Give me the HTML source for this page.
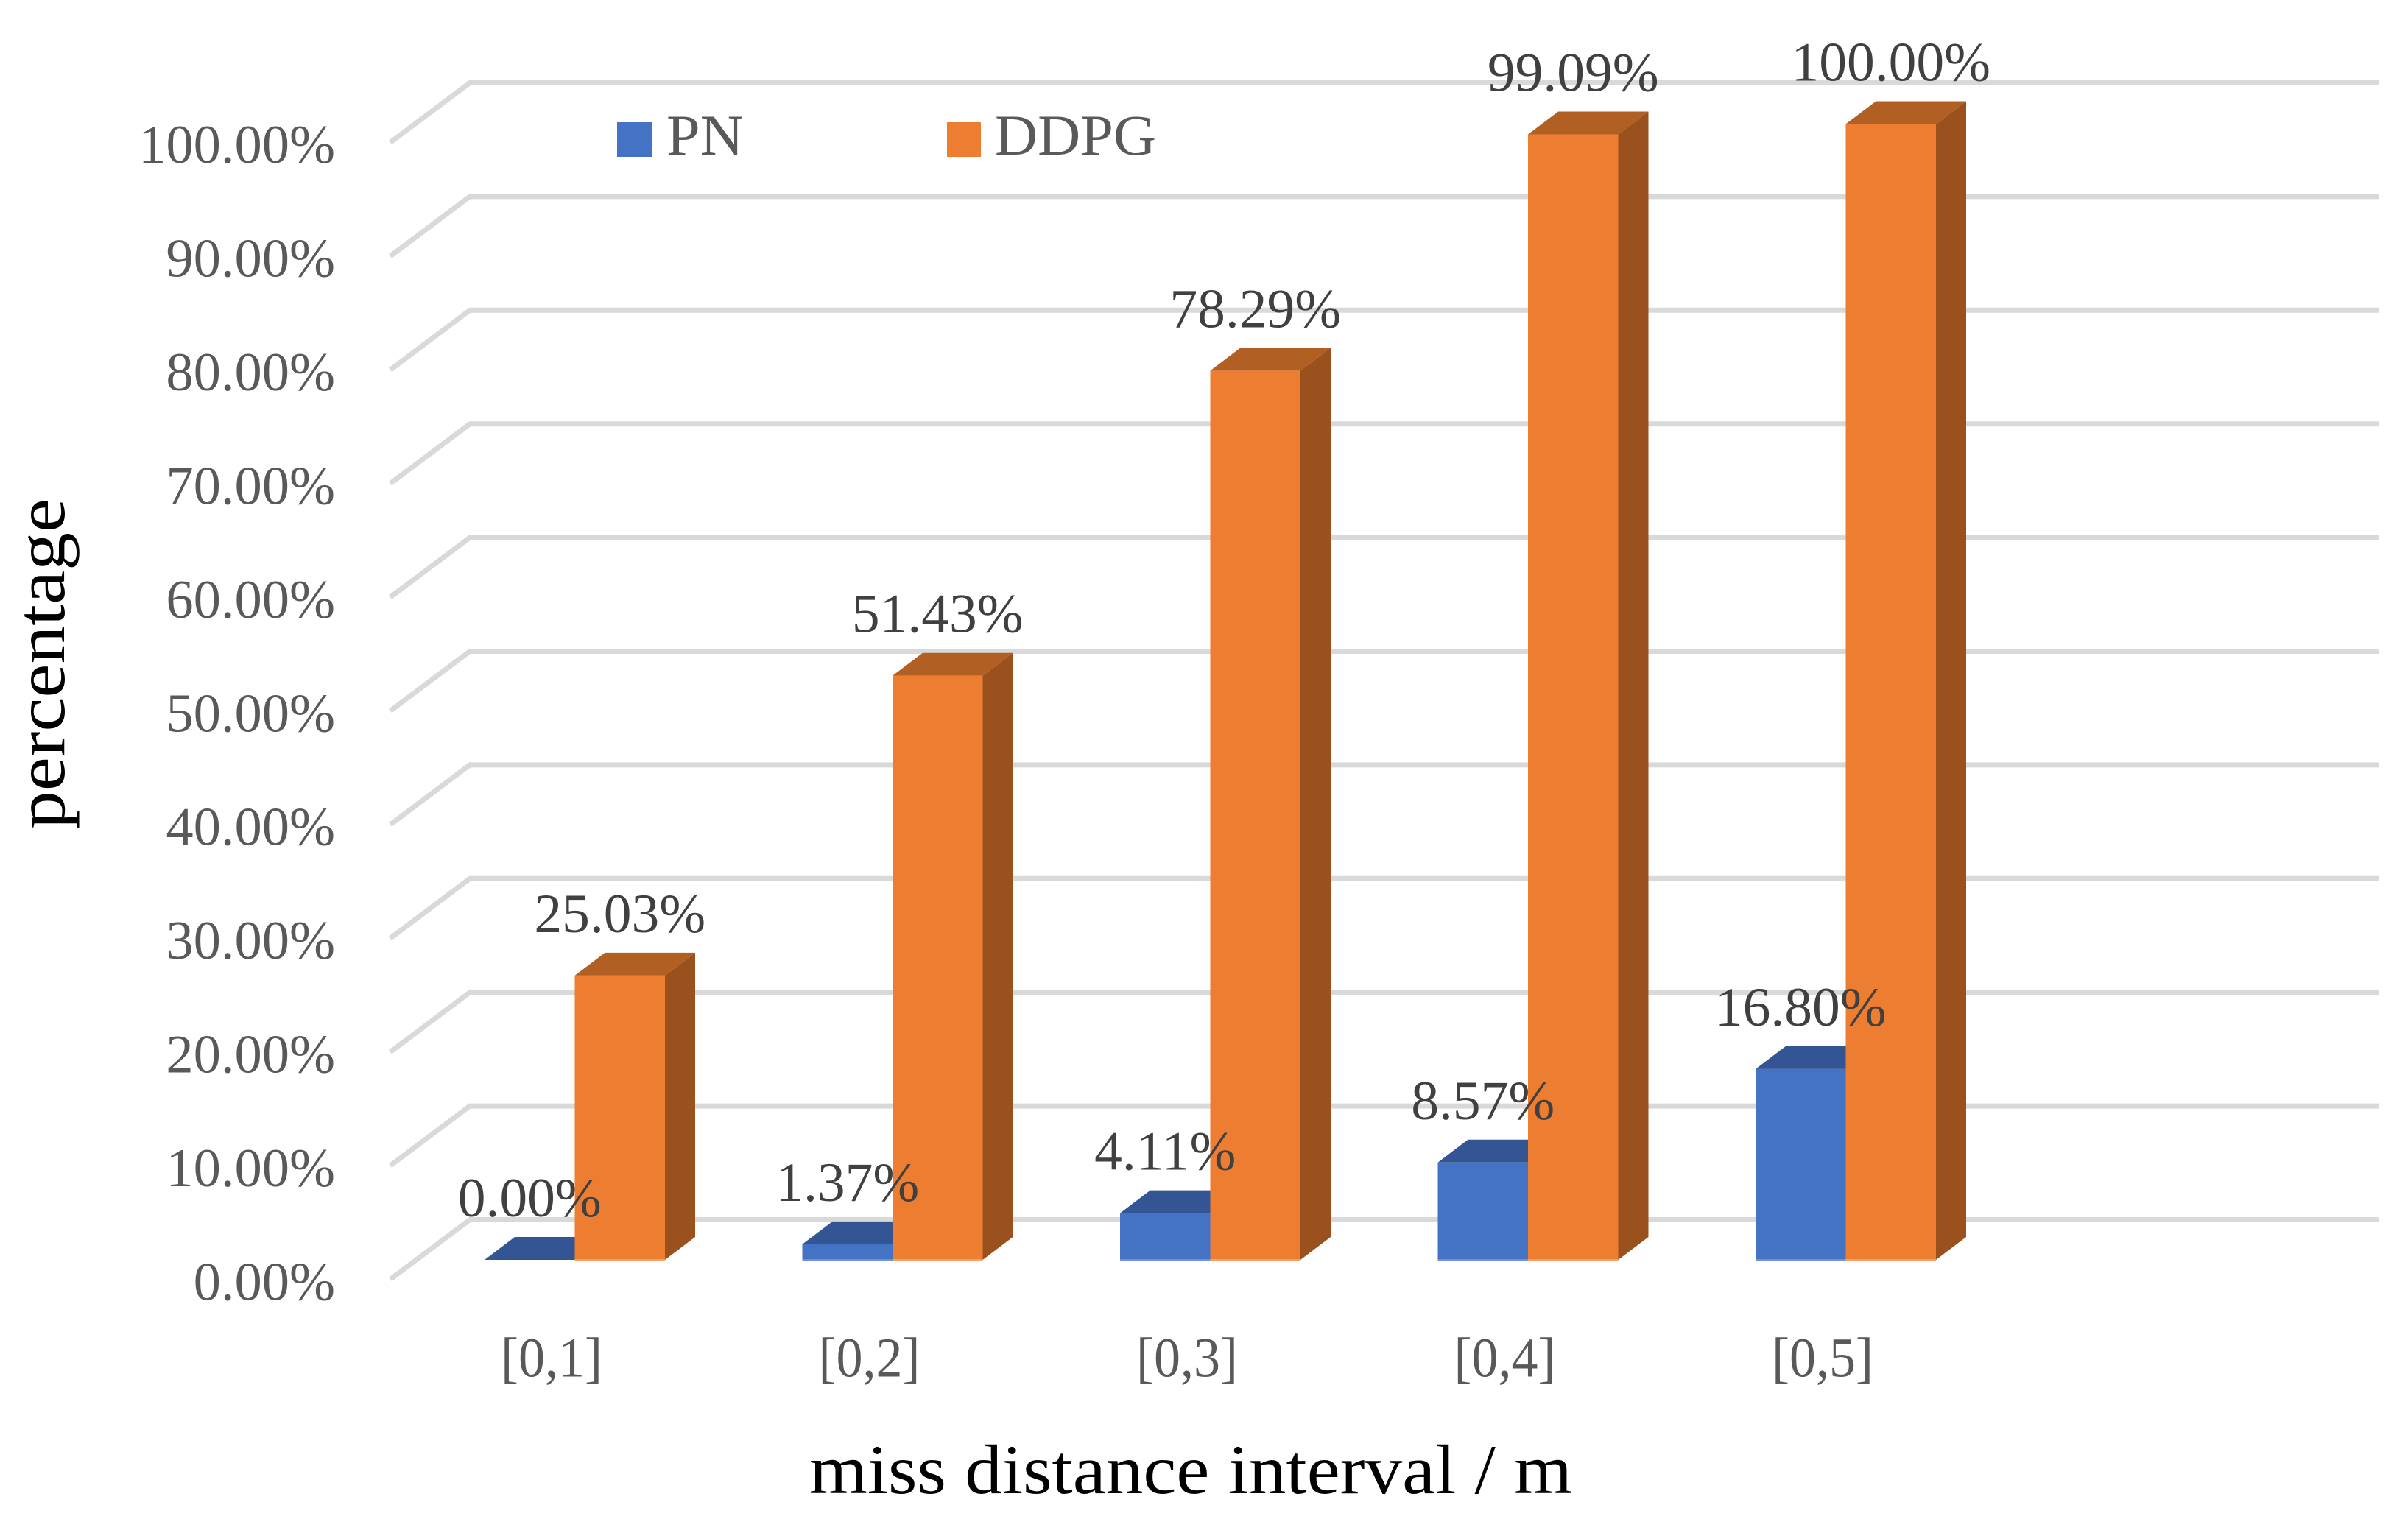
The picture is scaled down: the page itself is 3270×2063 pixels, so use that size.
<!DOCTYPE html>
<html lang="en">
<head>
<meta charset="utf-8">
<title>Miss distance interval chart</title>
<style>
html,body{margin:0;padding:0;background:#fff;}
svg{display:block;width:3270px;height:2063px;font-family:"Liberation Serif",serif;}
</style>
</head>
<body>
<svg id="chart" xmlns="http://www.w3.org/2000/svg" width="3270" height="2063" viewBox="0 0 3270 2063">
  <rect x="0" y="0" width="3270" height="2063" fill="#ffffff"/>
  <g id="grid"></g>
  <g id="ticks"></g>
  <g id="bars"></g>
  <g id="cats"></g>
  <g id="values"></g>
  <g>
    <rect x="838" y="166" width="47" height="47" fill="#4472C4"/>
    <text x="905" y="210" font-size="78" fill="#595959" textLength="105" lengthAdjust="spacingAndGlyphs">PN</text>
    <rect x="1286" y="166" width="46" height="47" fill="#ED7D31"/>
    <text x="1351" y="210" font-size="78" fill="#595959" textLength="219" lengthAdjust="spacingAndGlyphs">DDPG</text>
  </g>
  <text x="1099" y="2028" font-size="95" fill="#000000" textLength="1036" lengthAdjust="spacingAndGlyphs">miss distance interval / m</text>
  <text transform="translate(87 1126) rotate(-90)" x="0" y="0" font-size="95" fill="#000000" textLength="449" lengthAdjust="spacingAndGlyphs">percentage</text>
</svg>
<script>
const categories = ['[0,1]', '[0,2]', '[0,3]', '[0,4]', '[0,5]'];
const pnValues = [0.00, 1.37, 4.11, 8.57, 16.80];
const ddpgValues = [25.03, 51.43, 78.29, 99.09, 100.00];
const pnLabels = ['0.00%', '1.37%', '4.11%', '8.57%', '16.80%'];
const ddpgLabels = ['25.03%', '51.43%', '78.29%', '99.09%', '100.00%'];
const tickValues = [0, 10, 20, 30, 40, 50, 60, 70, 80, 90, 100];
const tickLabels = ['0.00%', '10.00%', '20.00%', '30.00%', '40.00%', '50.00%', '60.00%', '70.00%', '80.00%', '90.00%', '100.00%'];

const NS = 'http://www.w3.org/2000/svg';
const barWidth = 122.5;
const depthX = 41;
const depthY = 31;

// Axis functions
function yFront(v) { return 1711 - v * 15.425; }
function yBack(v) { return 1656.5 - v * 15.44; }
function yTickBaseline(v) { return 1765.5 - v * 15.445; }
function xOrange(i) { return 780.5 + i * 431.5; }
function xBlue(i) { return xOrange(i) - barWidth; }
function xCategory(i) { return 749 + i * 431.5; }

function make(tag, parent, props) {
  const el = document.createElementNS(NS, tag);
  Object.keys(props).forEach(function (k) { el.setAttribute(k, props[k]); });
  parent.appendChild(el);
  return el;
}
function pts(list) { return list.map(function (p) { return p[0] + ',' + p[1]; }).join(' '); }

const gridG = document.getElementById('grid');
const ticksG = document.getElementById('ticks');
const barsG = document.getElementById('bars');
const catsG = document.getElementById('cats');
const valuesG = document.getElementById('values');

tickValues.forEach(function (t, i) {
  const back = yBack(t);
  const line = make('polyline', gridG, {
    points: pts([[530, back + 81], [638, back], [3231, back]]),
    fill: 'none', stroke: '#d9d9d9', 'stroke-width': 7, 'stroke-linejoin': 'miter'
  });
  
  

  const label = make('text', ticksG, {
    x: 455, y: yTickBaseline(t), 'font-size': 74.5, fill: '#595959', 'text-anchor': 'end'
  });
  label.textContent = tickLabels[i];
  
  
});

function drawBar(x, v, front, top, side, base, name) {
  const yt = yFront(v);
  const yb = yFront(0);
  const g = make('g', barsG, {});
  
  
  make('polygon', g, {
    points: pts([[x + barWidth, yb], [x + barWidth + depthX, yb - depthY], [x + barWidth + depthX, yt - depthY], [x + barWidth, yt]]),
    fill: side
  });
  make('polygon', g, {
    points: pts([[x, yt], [x + depthX, yt - depthY], [x + barWidth + depthX, yt - depthY], [x + barWidth, yt]]),
    fill: top
  });
  if (yb - yt > 0) {
    make('rect', g, { x: x, y: yt, width: barWidth, height: yb - yt, fill: front });
    make('rect', g, { x: x, y: yb - 1, width: barWidth, height: 2.5, fill: base });
  }
}

categories.forEach(function (c, i) {
  drawBar(xBlue(i), pnValues[i], '#4472C4', '#335593', '#2F5597', '#6F93D6', 'bar-pn-' + (i + 1));
  drawBar(xOrange(i), ddpgValues[i], '#ED7D31', '#B25F24', '#9B511E', '#F4A066', 'bar-ddpg-' + (i + 1));

  const cat = make('text', catsG, {
    x: xCategory(i), y: 1869.5, 'font-size': 76, fill: '#595959', 'text-anchor': 'middle',
    textLength: 138, lengthAdjust: 'spacingAndGlyphs'
  });
  cat.textContent = c;
  
  
});

categories.forEach(function (c, i) {
  const a = make('text', valuesG, {
    x: xBlue(i) + barWidth / 2, y: yFront(pnValues[i]) - 59, 'font-size': 75.5, fill: '#404040', 'text-anchor': 'middle'
  });
  a.textContent = pnLabels[i];
  
  

  const b = make('text', valuesG, {
    x: xOrange(i) + barWidth / 2, y: yFront(ddpgValues[i]) - 59, 'font-size': 75.5, fill: '#404040', 'text-anchor': 'middle'
  });
  b.textContent = ddpgLabels[i];
  
  
});
</script>
</body>
</html>
